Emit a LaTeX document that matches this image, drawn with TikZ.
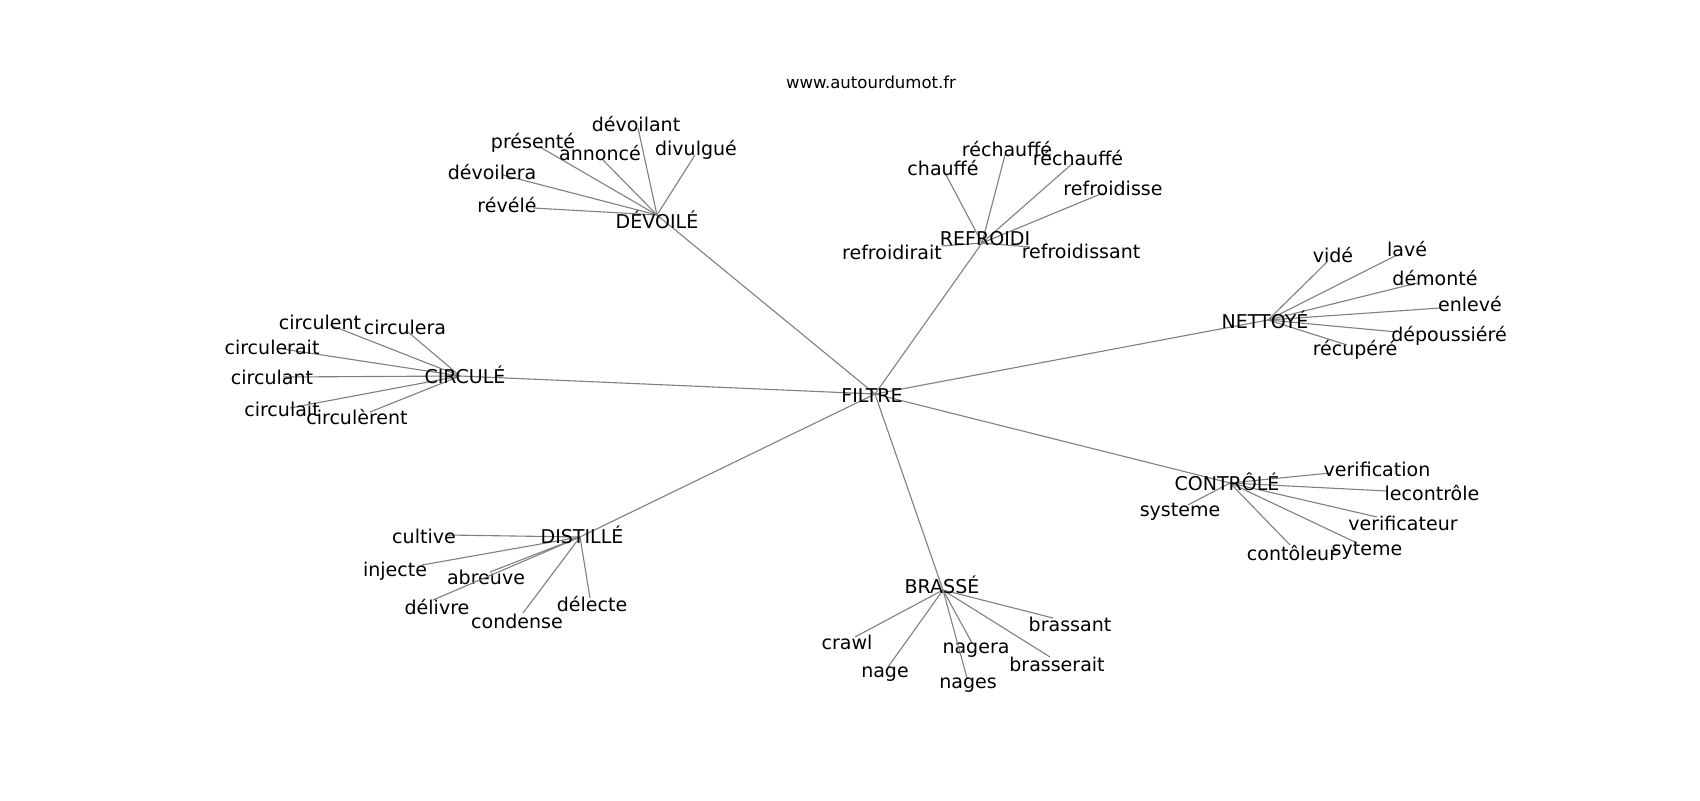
\documentclass[tikz,border=0pt]{standalone}
\usepackage{fontspec}
\setmainfont{DejaVu Sans}
\begin{document}
\begin{tikzpicture}[x=0.72pt,y=-0.72pt,
  lbl/.style={inner sep=0pt,anchor=center,font=\fontsize{13.7}{15}\selectfont,text=black},
  ttl/.style={inner sep=0pt,anchor=center,font=\fontsize{11.9}{14}\selectfont,text=black},
  edge/.style={draw=black!50,line width=0.8pt}]
\useasboundingbox (0,0) rectangle (1700,800);
\node[ttl] (title) at (871,82) {www.autourdumot.fr};
% hubs
\coordinate (FIL) at (875,394);
\coordinate (DEV) at (657,215);
\coordinate (REF) at (982,243);
\coordinate (NET) at (1268,320);
\coordinate (CIR) at (460,376);
\coordinate (CON) at (1230,483);
\coordinate (DIS) at (580,537);
\coordinate (BRA) at (943,590);
\foreach \h in {DEV,REF,NET,CIR,CON,DIS,BRA}{\draw[edge] (FIL) -- (\h);}
% leaves: hub/id/text x/text y/end x/end y/label
\foreach \h/\n/\tx/\ty/\ex/\ey/\t in {
 DEV/a1/636/124/638/128/dévoilant,
 DEV/a2/533/143/540/147/présenté,
 DEV/a3/600/153/603/160/annoncé,
 DEV/a4/696/150/695/155/divulgué,
 DEV/a5/492/172/503/175/dévoilera,
 DEV/a6/507/205/533/208/révélé,
 REF/b1/943/168/945/173/chauffé,
 REF/b2/1007/149/1005/155/réchauffé,
 REF/b3/1078/158/1073/163/réchauffé,
 REF/b4/1113/188/1103/193/refroidisse,
 REF/b5/892/252/942/246/refroidirait,
 REF/b6/1081/251/1030/247/refroidissant,
 NET/c1/1333/255/1327/262/vidé,
 NET/c2/1407/249/1397/255/lavé,
 NET/c3/1435/278/1417/283/démonté,
 NET/c4/1470/304/1440/308/enlevé,
 NET/c5/1449/336/1397/332/dépoussiéré,
 NET/c6/1355/350/1347/345/récupéré,
 CIR/d1/320/322/330/325/circulent,
 CIR/d2/405/327/408/332/circulera,
 CIR/d3/272/347/283/349/circulerait,
 CIR/d4/272/377/283/377/circulant,
 CIR/d5/282/409/290/408/circulait,
 CIR/d6/357/417/370/412/circulèrent,
 CON/e1/1377/469/1330/473/verification,
 CON/e2/1432/493/1387/491/lecontrôle,
 CON/e3/1180/512/1188/505/systeme,
 CON/e4/1403/523/1377/517/verificateur,
 CON/e5/1292/553/1290/545/contôleur,
 CON/e6/1367/551/1357/543/syteme,
 DIS/f1/424/536/447/535/cultive,
 DIS/f2/395/571/422/565/injecte,
 DIS/f3/486/577/490/572/abreuve,
 DIS/f4/437/607/433/600/délivre,
 DIS/f5/517/621/523/613/condense,
 DIS/f6/592/604/590/598/délecte,
 BRA/g1/847/642/855/637/crawl,
 BRA/g2/885/674/888/667/nage,
 BRA/g3/976/650/972/643/nagera,
 BRA/g4/968/685/967/678/nages,
 BRA/g5/1070/624/1053/618/brassant,
 BRA/g6/1057/664/1050/657/brasserait}{
  \coordinate (\n) at (\ex,\ey);
  \draw[edge] (\h) -- (\n);
  \node[lbl] (t\n) at (\tx,\ty) {\t};
}
% hub labels
\node[lbl] (tFIL) at (872,396) {FILTRE};
\node[lbl] (tDEV) at (657,220) {DÉVOILÉ};
\node[lbl] (tREF) at (985,239) {REFROIDI};
\node[lbl] (tNET) at (1265,320) {NETTOYÉ};
\node[lbl] (tCIR) at (465,375) {CIRCULÉ};
\node[lbl] (tCON) at (1227,482) {CONTRÔLÉ};
\node[lbl] (tDIS) at (582,535) {DISTILLÉ};
\node[lbl] (tBRA) at (942,585) {BRASSÉ};
\end{tikzpicture}
\end{document}
